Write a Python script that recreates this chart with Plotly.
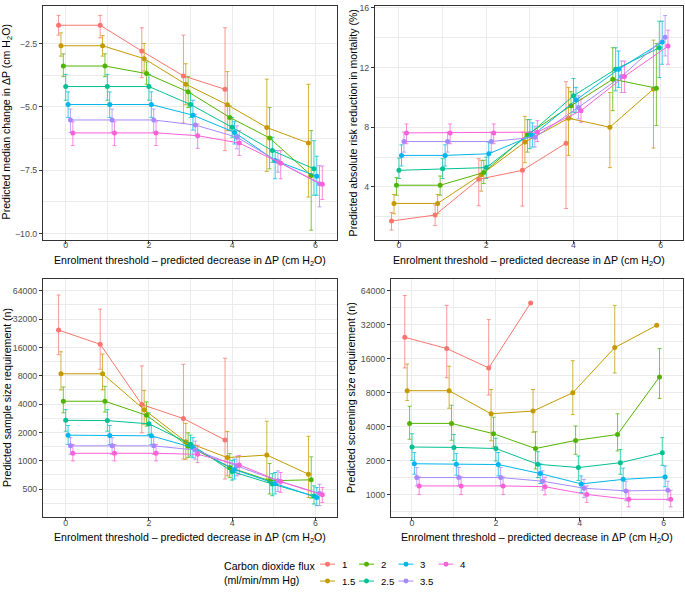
import plotly.graph_objects as go
import math

W, H = 685, 594
N = None

# ---- series ----
flux_labels = ["1", "1.5", "2", "2.5", "3", "3.5", "4"]
colors = ["#F8766D", "#C49A00", "#53B400", "#00C094", "#00B6EB", "#A58AFF", "#FB61D7"]
thresholds = [0, 1, 2, 3, 4, 5, 6]

# ---- panel 1: predicted median change in dP ----
med_est = [
    [-1.78, -1.78, -2.80, -3.78, -4.31, N, N],
    [-2.59, -2.59, -3.10, -4.11, -4.92, -5.82, -6.43],
    [-3.39, -3.39, -3.69, -4.41, -5.42, -6.23, -7.71],
    [-4.20, -4.20, -4.20, -4.91, -5.81, -6.73, -7.45],
    [-4.91, -4.91, -4.91, -5.33, -6.01, -7.12, -7.74],
    [-5.52, -5.52, -5.52, -5.72, -6.20, -7.16, -8.04],
    [-6.03, -6.03, -6.03, -6.14, -6.43, -7.23, -8.06],
]
med_hi = [
    [-1.39, -1.39, -1.88, -2.17, -1.88, N, N],
    [-2.08, -2.19, -2.50, -3.30, -3.61, -3.91, -4.11],
    [-2.91, -2.91, -3.23, -3.81, -4.96, -5.03, -5.94],
    [-3.72, -3.72, -3.72, -4.46, -5.42, -6.20, -6.34],
    [-4.41, -4.41, -4.41, -4.74, -5.59, -6.73, -6.95],
    [-5.09, -5.09, -5.09, -5.29, -5.75, -6.73, -7.32],
    [-5.59, -5.59, -5.59, -5.68, -5.94, -6.73, -7.34],
]
med_lo = [
    [-2.17, -2.28, -3.85, -5.64, -6.73, N, N],
    [-3.00, -3.00, -3.59, -4.92, -5.94, -7.55, -8.56],
    [-3.81, -3.81, -4.11, -5.03, -5.94, -7.45, -9.87],
    [-4.74, -4.74, -4.74, -5.42, -6.20, -7.19, -8.49],
    [-5.42, -5.42, -5.42, -5.92, -6.47, -7.84, -8.49],
    [-6.01, -6.01, -6.01, -6.14, -6.66, -7.58, -8.95],
    [-6.53, -6.53, -6.53, -6.64, -6.92, -7.84, -8.66],
]

# ---- panel 2: predicted absolute risk reduction in mortality (%) ----
arr_est = [
    [1.71, 2.11, 4.51, 5.11, 6.93, N, N],
    [2.89, 2.89, 4.82, 7.00, 8.60, 8.00, 10.56],
    [4.11, 4.11, 4.96, 7.51, 9.44, 11.22, 10.62],
    [5.11, 5.22, 5.29, 7.56, 10.11, 11.89, 13.33],
    [6.11, 6.11, 6.22, 7.44, 9.82, 11.89, 13.71],
    [7.04, 7.04, 7.04, 7.33, 9.33, 11.40, 14.04],
    [7.62, 7.62, 7.62, 7.67, 9.11, 11.40, 13.44],
]
arr_hi = [
    [2.29, 2.78, 5.89, 7.67, 11.05, N, N],
    [3.49, 3.49, 5.78, 8.73, 10.67, 10.33, 13.84],
    [4.62, 4.73, 5.78, 8.51, 10.38, 13.33, 13.62],
    [5.93, 5.89, 6.00, 8.51, 11.27, 13.33, 15.11],
    [6.82, 6.82, 7.00, 8.29, 10.67, 13.11, 15.11],
    [7.67, 7.67, 7.67, 8.07, 10.11, 12.44, 15.49],
    [8.22, 8.22, 8.22, 8.44, 9.89, 12.44, 14.51],
]
arr_lo = [
    [1.11, 1.40, 2.73, 2.71, 2.55, N, N],
    [2.20, 2.20, 3.71, 5.62, 6.11, 5.29, 6.60],
    [3.44, 3.44, 4.22, 6.33, 8.56, 9.11, 8.11],
    [4.56, 4.56, 4.56, 6.56, 9.00, 10.44, 11.33],
    [5.40, 5.40, 5.44, 6.67, 9.00, 10.67, 12.22],
    [6.33, 6.33, 6.33, 6.67, 8.56, 10.33, 12.78],
    [6.89, 6.89, 6.89, 7.04, 8.33, 10.33, 12.22],
]

# ---- panel 3: predicted sample size requirement (n) ----
ss_est = [
    [24500, 17300, 3950, 2810, 1660, N, N],
    [8400, 8400, 3490, 1590, 1080, 1150, 720],
    [4290, 4290, 3040, 1430, 850, 613, 627],
    [2690, 2670, 2470, 1500, 767, 565, 422],
    [1870, 1850, 1840, 1380, 805, 572, 407],
    [1440, 1440, 1440, 1300, 880, 613, 450],
    [1200, 1200, 1200, 1170, 903, 600, 434],
]
ss_hi = [
    [57800, 40900, 10200, 10600, 12300, N, N],
    [14400, 13600, 5570, 2500, 2050, 2630, 1820],
    [6080, 6180, 4220, 1980, 1190, 935, 1100],
    [3490, 3490, 3230, 1870, 1010, 730, 541],
    [2370, 2370, 2370, 1760, 1040, 750, 519],
    [1760, 1760, 1760, 1620, 1120, 780, 564],
    [1490, 1490, 1490, 1460, 1140, 750, 519],
]
ss_lo = [
    [13400, 9400, 1980, 1040, 640, N, N],
    [5670, 5670, 2440, 1040, 690, 640, 407],
    [3230, 3290, 2330, 1080, 662, 443, 401],
    [2060, 2060, 1900, 1120, 622, 425, 347],
    [1490, 1490, 1490, 1075, 640, 443, 333],
    [1170, 1170, 1170, 1040, 690, 471, 333],
    [996, 996, 996, 955, 710, 461, 360],
]

# ---- panel 4: predicted screening size requirement (n) ----
scr_est = [
    [24700, 19600, 13200, 49700, N, N, N],
    [8300, 8300, 5180, 5480, 7960, 20000, 31500],
    [4260, 4260, 3450, 2550, 3010, 3400, 11000],
    [2630, 2610, 2550, 1850, 1730, 1910, 2340],
    [1870, 1850, 1840, 1530, 1240, 1360, 1430],
    [1410, 1410, 1410, 1310, 1135, 1075, 1090],
    [1190, 1190, 1190, 1170, 1000, 905, 905],
]
scr_hi = [
    [57800, 47300, 35400, N, N, N, N],
    [14300, 13700, 8500, 8500, 15300, 47300, N],
    [6040, 6170, 4840, 3590, 4040, 5180, 19600],
    [3450, 3400, 3150, 2390, 2190, 2500, 3190],
    [2350, 2300, 2350, 1870, 1460, 1710, 1790],
    [1730, 1730, 1730, 1620, 1360, 1310, 1310],
    [1430, 1430, 1430, 1420, 1190, 1090, 1090],
]
scr_lo = [
    [13200, 10800, 7600, N, N, N, N],
    [6800, 5800, 2980, 3560, 5100, 11900, N],
    [3080, 3020, 2630, 1680, 2270, 2430, 7090],
    [2000, 2000, 1980, 1410, 1330, 1510, 1810],
    [1510, 1480, 1460, 1250, 1040, 1075, 1170],
    [1190, 1190, 1190, 1090, 935, 880, 890],
    [1000, 1000, 1000, 990, 850, 776, 776],
]

log_ticks = [500, 1000, 2000, 4000, 8000, 16000, 32000, 64000]

# ---- helpers ----
def px(x):
    return x / W

def py(y):
    return 1 - y / H

def rgba(hexc, a):
    h = hexc.lstrip("#")
    return "rgba(%d,%d,%d,%.2f)" % (int(h[0:2], 16), int(h[2:4], 16), int(h[4:6], 16), a)

DODGE = 0.4

def dodged_x(est):
    xs = [[None] * len(thresholds) for _ in est]
    for i, t in enumerate(thresholds):
        present = [s for s in range(len(est)) if est[s][i] is not None]
        n = len(present)
        for rank, s in enumerate(present):
            xs[s][i] = t + (rank - (n - 1) / 2) * DODGE / n
    return xs

fig = go.Figure()

panels = [
    (med_est, med_lo, med_hi, "x", "y"),
    (arr_est, arr_lo, arr_hi, "x2", "y2"),
    (ss_est, ss_lo, ss_hi, "x3", "y3"),
    (scr_est, scr_lo, scr_hi, "x4", "y4"),
]

for est, lo, hi, xa, ya in panels:
    xs = dodged_x(est)
    for s in range(len(est)):
        col = colors[s]
        ex, ey, eplus, eminus = [], [], [], []
        for i in range(len(thresholds)):
            if est[s][i] is not None and hi[s][i] is not None:
                ex.append(xs[s][i])
                ey.append(est[s][i])
                eplus.append(hi[s][i] - est[s][i])
                eminus.append(est[s][i] - lo[s][i])
        fig.add_trace(go.Scatter(
            x=ex, y=ey, mode="markers", xaxis=xa, yaxis=ya,
            marker=dict(size=1, opacity=0, color=col),
            error_y=dict(type="data", symmetric=False, array=eplus, arrayminus=eminus,
                         color=rgba(col, 0.75), thickness=1, width=2),
            showlegend=False, hoverinfo="skip"))
    for s in range(len(est)):
        col = colors[s]
        px_ = [xs[s][i] for i in range(len(thresholds)) if est[s][i] is not None]
        py_ = [est[s][i] for i in range(len(thresholds)) if est[s][i] is not None]
        fig.add_trace(go.Scatter(
            x=px_, y=py_, mode="lines+markers", xaxis=xa, yaxis=ya,
            line=dict(color=col, width=1),
            marker=dict(size=5, color=col),
            name=flux_labels[s], showlegend=False))

# ---- axes ----
FONT = "Liberation Sans, Arial, sans-serif"
GRID = "#EBEBEB"
common = dict(showline=True, mirror=True, linecolor="#333333", linewidth=1,
              gridcolor=GRID, gridwidth=1, zeroline=False,
              ticks="outside", ticklen=3, tickcolor="#333333", tickwidth=1,
              tickfont=dict(family=FONT, size=8.8, color="#4D4D4D"))

xmin = dict(tickmode="array", tickvals=[1, 3, 5], showgrid=True, gridcolor=GRID, gridwidth=0.6)

top_dom = [py(238), py(3)]
bot_dom = [py(517), py(277)]

def xaxis(dom, rng, anchor):
    return dict(common, domain=dom, range=rng, anchor=anchor,
                tickmode="array", tickvals=[0, 2, 4, 6], ticktext=["0", "2", "4", "6"],
                ticklabelstandoff=-6, minor=xmin)

minor_log = [353.6, 707.1, 1414.2, 2828.4, 5656.9, 11313.7, 22627.4, 45254.8]

fig.update_layout(
    xaxis=xaxis([px(43), px(337)], [-0.546, 6.52], "y"),
    xaxis2=xaxis([px(375), px(683)], [-0.55, 6.51], "y2"),
    xaxis3=xaxis([px(43), px(337)], [-0.546, 6.52], "y3"),
    xaxis4=xaxis([px(391), px(683)], [-0.5, 6.46], "y4"),
    yaxis=dict(common, domain=top_dom, range=[-10.25, -1.02], anchor="x",
               tickmode="array", tickvals=[-10, -7.5, -5, -2.5],
               ticktext=["\u221210.0", "\u22127.5", "\u22125.0", "\u22122.5"],
               minor=dict(tickmode="array", tickvals=[-8.75, -6.25, -3.75],
                          showgrid=True, gridcolor=GRID, gridwidth=0.6)),
    yaxis2=dict(common, domain=top_dom, range=[0.45, 16.13], anchor="x2",
                tickmode="array", tickvals=[4, 8, 12, 16],
                minor=dict(tickmode="array", tickvals=[2, 6, 10, 14],
                           showgrid=True, gridcolor=GRID, gridwidth=0.6)),
    yaxis3=dict(common, domain=bot_dom, type="log",
                range=[math.log10(250), math.log10(86300)], anchor="x3",
                tickmode="array", tickvals=log_ticks, ticktext=[str(v) for v in log_ticks],
                minor=dict(tickmode="array", tickvals=minor_log,
                           showgrid=True, gridcolor=GRID, gridwidth=0.6)),
    yaxis4=dict(common, domain=bot_dom, type="log",
                range=[math.log10(626), math.log10(81700)], anchor="x4",
                tickmode="array", tickvals=log_ticks[1:], ticktext=[str(v) for v in log_ticks[1:]],
                minor=dict(tickmode="array", tickvals=minor_log,
                           showgrid=True, gridcolor=GRID, gridwidth=0.6)),
)

# ---- axis titles ----
TFS = 10.6
xt = "Enrolment threshold \u2013 predicted decrease in \u0394P (cm H<sub>2</sub>O)"
titles = [
    (xt, 190, 259, 0),
    (xt, 529, 259, 0),
    (xt, 190, 538, 0),
    (xt, 537, 538, 0),
    ("Predicted median change in \u0394P (cm H<sub>2</sub>O)", 7, 120, -90),
    ("Predicted absolute risk reduction in mortality (%)", 353, 120, -90),
    ("Predicted sample size requirement (n)", 7, 397, -90),
    ("Predicted screening size requirement (n)", 351, 397, -90),
]
annotations = []
for text, x, y, ang in titles:
    annotations.append(dict(text=text, x=px(x), y=py(y), xref="paper", yref="paper",
                            xanchor="center", yanchor="middle", showarrow=False,
                            textangle=ang, font=dict(family=FONT, size=TFS, color="black")))

# ---- legend (drawn manually, ggplot style 2 rows) ----
annotations.append(dict(text="Carbon dioxide flux<br>(ml/min/mm Hg)", x=px(222), y=py(573),
                        xref="paper", yref="paper", xanchor="left", yanchor="middle",
                        align="left", showarrow=False,
                        font=dict(family=FONT, size=TFS, color="black")))
key_cols = [327.5, 366.5, 406, 446]
key_rows = [564, 581]
shapes = []
for s, lab in enumerate(flux_labels):
    col_i = s // 2
    row_i = s % 2
    cx, cy = key_cols[col_i], key_rows[row_i]
    shapes.append(dict(type="line", xref="paper", yref="paper",
                       x0=px(cx - 7.5), x1=px(cx + 7.5), y0=py(cy), y1=py(cy),
                       line=dict(color=colors[s], width=1)))
    shapes.append(dict(type="circle", xref="paper", yref="paper",
                       x0=px(cx - 2.5), x1=px(cx + 2.5), y0=py(cy + 2.5), y1=py(cy - 2.5),
                       fillcolor=colors[s], line=dict(color=colors[s], width=0)))
    annotations.append(dict(text=lab, x=px(cx + 12), y=py(cy), xref="paper", yref="paper",
                            xanchor="left", yanchor="middle", showarrow=False,
                            font=dict(family=FONT, size=TFS - 1, color="black")))

fig.update_layout(
    width=W, height=H, margin=dict(l=0, r=0, t=0, b=0),
    paper_bgcolor="white", plot_bgcolor="white",
    showlegend=False, annotations=annotations, shapes=shapes,
    font=dict(family=FONT),
)

fig.write_html("out.html", config={"displayModeBar": False},
               post_script="document.body.style.margin='0px';document.body.style.overflow='hidden';")
